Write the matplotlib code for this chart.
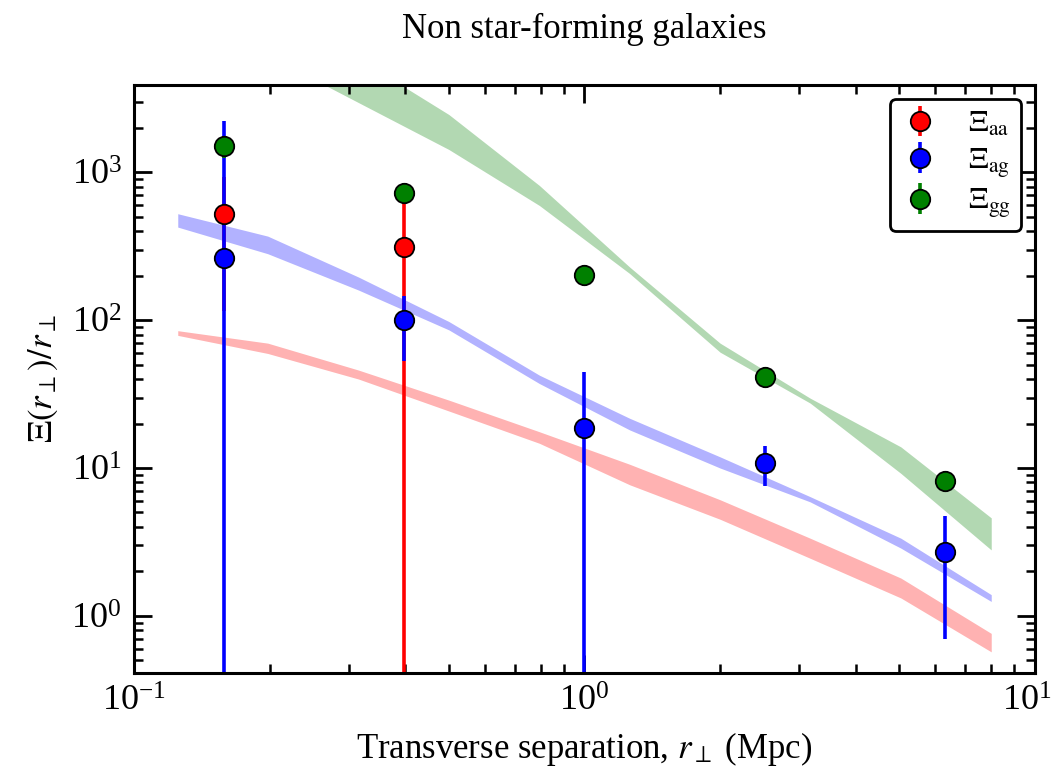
import numpy as np
import matplotlib
matplotlib.use("Agg")
import matplotlib.pyplot as plt
from matplotlib.transforms import ScaledTranslation

plt.rcParams['font.family'] = ['Liberation Serif', 'DejaVu Serif']
plt.rcParams['mathtext.fontset'] = 'stix'

# Measured correlation points (transverse separation in Mpc)
r_obs = [0.158, 0.398, 1.0, 2.51, 6.31]

xi_aa = [520, 311]
xi_aa_err = [405, 380]
r_aa = r_obs[:2]

xi_ag = [262, 100, 18.6, 10.8, 2.7]
xi_ag_err = [1978, 47, 25.9, 3.3, 2.0]

xi_gg = [1520, 721, 201, 41, 8.2]
xi_gg_err = [258, 60, 20, 3, 0.8]

# Model bands (upper / lower envelopes)
r_model = [0.125, 0.198, 0.315, 0.5, 0.794, 1.26, 2.0, 3.17, 5.04, 8.0]
aa_hi = [85, 70, 46, 28.8, 17.6, 10.6, 6.1, 3.35, 1.80, 0.76]
aa_lo = [79, 59.6, 40, 24.3, 14.7, 7.7, 4.5, 2.45, 1.32, 0.57]
ag_hi = [526, 371, 196, 98, 42.5, 21.7, 11.9, 6.4, 3.35, 1.39]
ag_lo = [427, 282, 160, 86, 37.3, 18.1, 10.0, 5.9, 2.87, 1.25]
gg_hi = [34000, 14000, 5900, 2466, 817, 229, 70, 29.7, 13.9, 4.6]
gg_lo = [12700, 6200, 2970, 1430, 598, 207, 60.8, 27.5, 9.2, 2.79]

fig = plt.figure(figsize=(10.56, 7.74), dpi=100)
ax = fig.add_axes([0.127, 0.1305, 0.853, 0.7595])
ax.set_xscale('log')
ax.set_yscale('log')

ax.fill_between(r_model, aa_lo, aa_hi, color='red', alpha=0.3, lw=0, zorder=1)
ax.fill_between(r_model, ag_lo, ag_hi, color='blue', alpha=0.3, lw=0, zorder=1)
ax.fill_between(r_model, gg_lo, gg_hi, color='green', alpha=0.3, lw=0, zorder=1)

series = [
    (r_aa, xi_aa, xi_aa_err, 'red', r'$\Xi_{\rm aa}$'),
    (r_obs, xi_ag, xi_ag_err, 'blue', r'$\Xi_{\rm ag}$'),
    (r_obs, xi_gg, xi_gg_err, 'green', r'$\Xi_{\rm gg}$'),
]
for x, y, e, c, lab in series:
    eb = ax.errorbar(x, y, yerr=e, fmt='o', color=c, ecolor=c,
                     markerfacecolor=c, markeredgecolor='black',
                     markeredgewidth=1.3, markersize=14, elinewidth=2.6,
                     capsize=0, label=lab, zorder=2)
    eb[0].set_zorder(5)

ax.set_xlim(0.1, 10)
ax.set_ylim(0.41, 3900)

for side in ax.spines.values():
    side.set_linewidth(2.2)
ax.tick_params(which='both', direction='in', top=True, right=True,
               labelsize=26, width=2, pad=9)
ax.tick_params(which='major', length=13)
ax.tick_params(which='minor', length=6.5, width=1.8)

ax.set_xlabel(r'Transverse separation, $r_\perp$ (Mpc)', fontsize=25, labelpad=8)
ax.set_ylabel(r'$\Xi(r_\perp)/r_\perp$', fontsize=25, labelpad=8)
ax.set_title('Non star-forming galaxies', fontsize=25, pad=34)

leg = ax.legend(loc='upper right', numpoints=1, fontsize=22, fancybox=True,
                framealpha=1, edgecolor='black', borderaxespad=0.45,
                handlelength=1.3, labelspacing=0.25, borderpad=0.35,
                handletextpad=0.9)
leg.get_frame().set_linewidth(2)

# nudge the right-most x tick label so it stays inside the canvas
fig.canvas.draw()
xlabels = ax.get_xticklabels()
visible = [t for t in xlabels if t.get_text() and
           ax.get_xlim()[0] <= t.get_position()[0] <= ax.get_xlim()[1]]
if visible:
    last = max(visible, key=lambda t: t.get_position()[0])
    last.set_transform(last.get_transform() +
                       ScaledTranslation(-6 / 72, 0, fig.dpi_scale_trans))

fig.savefig('out.png', dpi=100)
